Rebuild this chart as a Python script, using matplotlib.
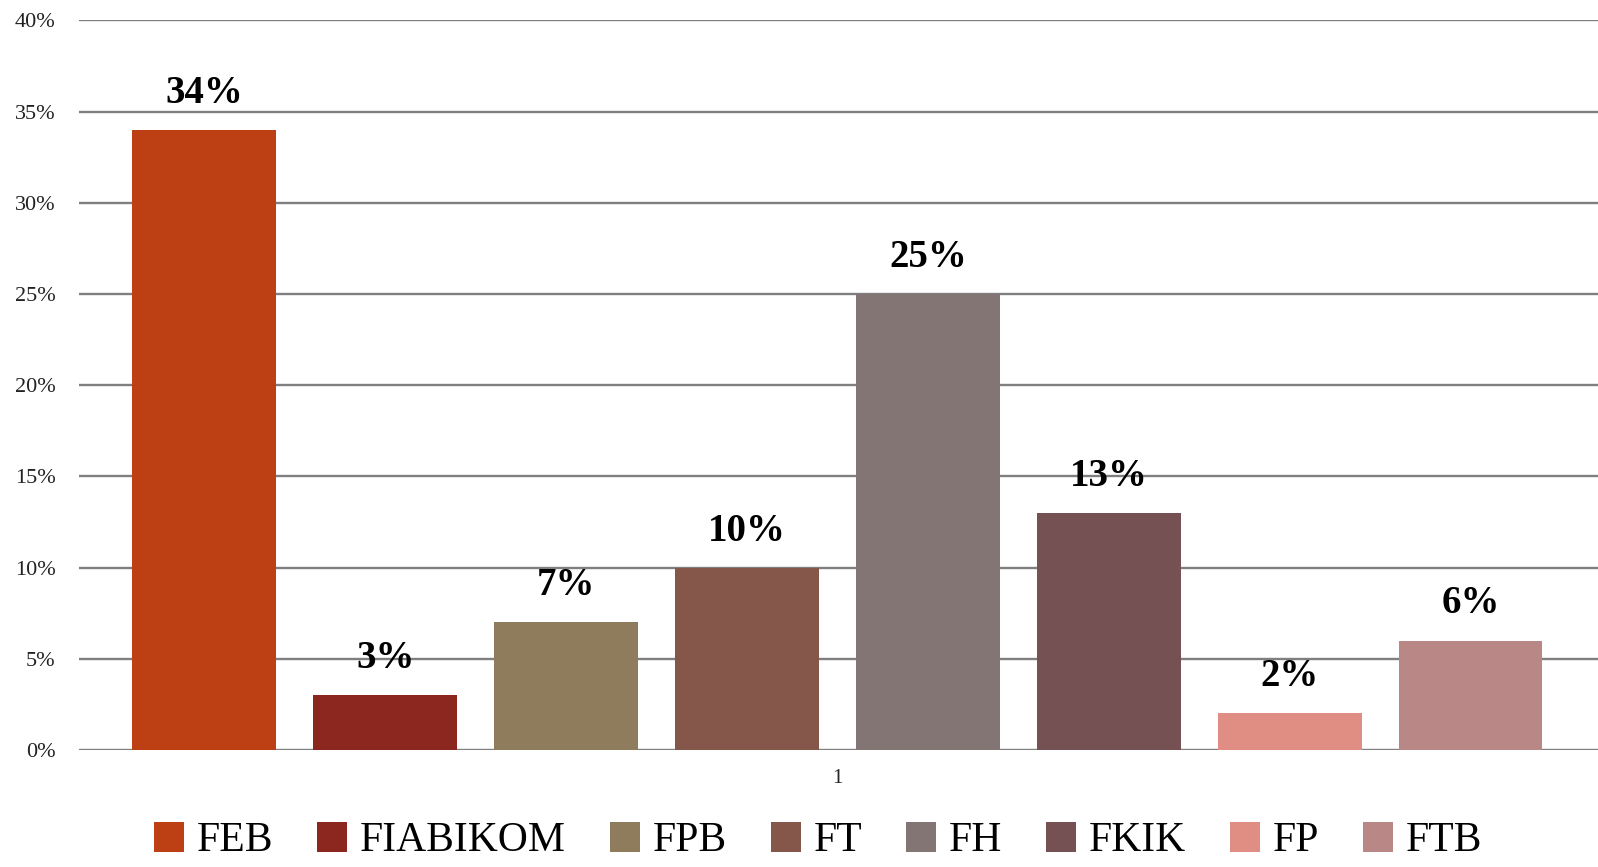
#!/usr/bin/env python3
"""Share per faculty: single-category grouped bar chart."""
import matplotlib
matplotlib.use("Agg")
import matplotlib.pyplot as plt
from matplotlib.ticker import FuncFormatter
import numpy as np

faculties = ["FEB", "FIABIKOM", "FPB", "FT", "FH", "FKIK", "FP", "FTB"]
shares = [34, 3, 7, 10, 25, 13, 2, 6]
colors = ["#BC4014", "#8B271E", "#8F7C5D", "#85574A",
          "#837574", "#765153", "#E08D84", "#B98886"]
category = "1"
y_ticks = [0, 5, 10, 15, 20, 25, 30, 35, 40]

plt.rcParams["font.family"] = ["Liberation Serif", "DejaVu Serif"]

fig = plt.figure(figsize=(15.98, 8.67), dpi=100)
ax = fig.add_axes([0.0497, 0.135, 0.9503, 0.8415])

x = np.arange(len(faculties))
bars = []
for i, (name, val, col) in enumerate(zip(faculties, shares, colors)):
    b = ax.bar(x[i], val, width=0.794, color=col, label=name, zorder=3)
    ax.bar_label(b, labels=[f"{val}%"], padding=13, fontsize=28,
                 fontweight="bold", color="black")
    bars.append(b)

ax.set_xlim(-0.69, len(faculties) - 1 + 0.704)
ax.set_ylim(0, 40)
ax.set_yticks(y_ticks)
ax.yaxis.set_major_formatter(FuncFormatter(lambda v, _: f"{int(v)}%"))
ax.set_xticks([(len(faculties) - 1) / 2])
ax.set_xticklabels([category])
ax.tick_params(axis="y", length=0, pad=17, labelsize=16, labelcolor="#222222")
ax.tick_params(axis="x", length=0, pad=14, labelsize=15, labelcolor="#222222")
ax.grid(axis="y", color="#7f7f7f", linewidth=1.7, zorder=0)
for s in ax.spines.values():
    s.set_visible(False)

fig.legend(handles=bars, labels=faculties, loc="center",
           bbox_to_anchor=(0.512, 0.03), ncol=len(faculties), frameon=False,
           fontsize=30, handlelength=0.72, handleheight=0.72,
           handletextpad=0.31, columnspacing=1.05, borderpad=0)

fig.savefig("out.png", dpi=100)
